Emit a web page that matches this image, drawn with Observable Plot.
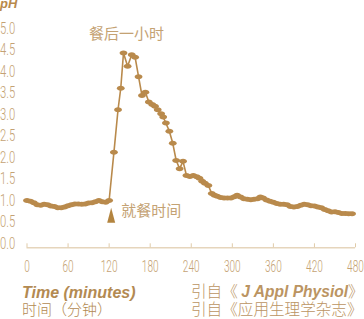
<!DOCTYPE html>
<html>
<head>
<meta charset="utf-8">
<script src="https://cdn.jsdelivr.net/npm/d3@7"></script>
<script src="https://cdn.jsdelivr.net/npm/@observablehq/plot@0.6"></script>
<style>
  html, body { margin: 0; padding: 0; background: #ffffff; }
  #wrap { position: relative; width: 364px; height: 319px; overflow: hidden; }
  #chart { position: absolute; left: 0; top: 0; }
  .cap { position: absolute; white-space: nowrap; line-height: 1; }
  .en { font-family: "Liberation Sans", Arial, sans-serif; font-weight: bold; font-style: italic; }
  .zh { font-family: "Noto Sans CJK SC", sans-serif; font-weight: 300; }
</style>
</head>
<body>
<div id="wrap">
  <div id="chart"></div>
  <span class="cap en" id="ph" style="left:0px; top:-3px; font-size:13px; color:#b8894c;">pH</span>
  <span class="cap en" style="left:22px; top:285px; font-size:16px; color:#b38a52;">Time (minutes)</span>
  <span class="cap zh" style="left:22px; top:301px; font-size:15px; color:#b38a52;">时间（分钟）</span>
  <span class="cap zh" style="left:191px; top:283px; font-size:15.6px; color:#bb9462;">引自《 <span class="en">J Appl Physiol</span>》</span>
  <span class="cap zh" style="left:191px; top:301px; font-size:15.6px; color:#bb9462;">引自《应用生理学杂志》</span>
</div>
<script>
// ---- data ----
const minutes = [
  0, 5, 10, 15, 20, 25, 30, 35, 40, 45, 50, 55, 60, 65, 70, 75, 80, 85, 90, 95, 100, 105, 110, 115, 120,
  127, 133, 137, 141, 147, 153, 158, 163, 168, 173, 178, 183, 187, 191, 196, 199, 203, 208, 213, 218, 223, 228, 233,
  238, 243, 248, 252, 256, 260, 265, 270, 274, 278, 283, 288, 293, 298, 303, 307, 312, 317, 322, 327, 332, 337,
  341, 345, 350, 355, 360, 365, 370, 375, 380, 385, 390, 395, 400, 405, 410, 415, 420, 425, 430, 435, 440, 445,
  450, 455, 460, 465, 470, 475
];
const phValues = [
  1.00, 0.98, 0.95, 0.90, 0.89, 0.91, 0.90, 0.87, 0.86, 0.83, 0.83, 0.85, 0.88, 0.90, 0.92, 0.92, 0.91, 0.92, 0.94, 0.95, 0.97, 1.00, 0.97, 0.96, 1.00,
  2.12, 3.11, 3.61, 4.43, 4.12, 4.39, 4.33, 3.88, 3.44, 3.52, 3.29, 3.23, 3.19, 3.11, 3.02, 2.94, 2.80, 2.61, 2.33, 1.93, 1.74, 1.91, 1.58,
  1.56, 1.58, 1.55, 1.52, 1.45, 1.40, 1.35, 1.16, 1.12, 1.10, 1.07, 1.06, 1.06, 1.06, 1.09, 1.12, 1.08, 1.04, 1.03, 1.02, 1.03, 1.04,
  1.08, 1.06, 1.01, 0.98, 0.96, 0.93, 0.91, 0.91, 0.90, 0.86, 0.85, 0.86, 0.89, 0.91, 0.90, 0.88, 0.87, 0.85, 0.83, 0.79, 0.76, 0.73,
  0.74, 0.72, 0.70, 0.70, 0.69, 0.69
];
const xTicks = [0, 60, 120, 180, 240, 300, 360, 420, 480];
const yTicks = [0, 0.5, 1, 1.5, 2, 2.5, 3, 3.5, 4, 4.5, 5];
const mealTime = [123];
const mealLabel = "就餐时间";
const peakLabel = "餐后一小时";

const data = minutes.map((t, i) => ({t, ph: phValues[i]}));
const peak = [data.reduce((a, b) => (b.ph > a.ph ? b : a))];

const lineColor = "#b98a4c";
const labelColor = "#c4a273";

const ellipse = {
  draw(ctx) {
    const rx = 3.9, ry = 2.5, k = 0.5523;
    ctx.moveTo(rx, 0);
    ctx.bezierCurveTo(rx, ry * k, rx * k, ry, 0, ry);
    ctx.bezierCurveTo(-rx * k, ry, -rx, ry * k, -rx, 0);
    ctx.bezierCurveTo(-rx, -ry * k, -rx * k, -ry, 0, -ry);
    ctx.bezierCurveTo(rx * k, -ry, rx, -ry * k, rx, 0);
    ctx.closePath();
  }
};
const tallTriangle = {
  draw(ctx) {
    ctx.moveTo(0, -8);
    ctx.lineTo(4, 7);
    ctx.lineTo(-4, 7);
    ctx.closePath();
  }
};

const chart = Plot.plot({
  width: 364,
  height: 275,
  marginTop: 28,
  marginBottom: 27.7,
  marginLeft: 26.5,
  marginRight: 9,
  style: {fontFamily: "Roboto, sans-serif", background: "transparent"},
  x: {domain: [0, 480]},
  y: {domain: [-0.1, 5]},
  marks: [
    Plot.ruleY([-0.1], {stroke: "#e6d5bc", strokeWidth: 1.5}),
    Plot.axisX({ticks: xTicks, tickSize: -4, tickPadding: 16, stroke: "#e0cba9", fill: labelColor, fontSize: 17, fontWeight: 300, label: null, tickFormat: d => String(d)}),
    Plot.axisY({ticks: yTicks, tickSize: 0, textAnchor: "start", dx: -18, fill: labelColor, fontSize: 17, fontWeight: 300, label: null, tickFormat: d3.format(".1f")}),
    Plot.line(data, {x: "t", y: "ph", stroke: lineColor, strokeWidth: 1.6}),
    Plot.dot(data, {x: "t", y: "ph", symbol: ellipse, fill: lineColor, stroke: null}),
    Plot.text(peak, {x: "t", y: "ph", text: () => peakLabel, dx: 3, dy: -19, fill: labelColor, fontSize: 15, fontFamily: "Noto Sans CJK SC"}),
    Plot.dot(mealTime, {x: d => d, frameAnchor: "bottom", dy: -32, symbol: tallTriangle, fill: "#b3843f", stroke: null}),
    Plot.text(mealTime, {x: d => d, frameAnchor: "bottom", dy: -32, dx: 10, text: () => mealLabel, textAnchor: "start", fill: labelColor, fontSize: 15, fontFamily: "Noto Sans CJK SC"})
  ]
});

// compress tick labels to a narrow, condensed look
d3.select(chart).selectAll('g[aria-label="x-axis tick label"] text, g[aria-label="y-axis tick label"] text').each(function () {
  const s = this.textContent;
  const digits = (s.match(/\d/g) || []).length;
  const dots = (s.match(/\./g) || []).length;
  this.setAttribute("textLength", digits * 5.6 + dots * 4);
  this.setAttribute("lengthAdjust", "spacingAndGlyphs");
});

document.getElementById("chart").appendChild(chart);
</script>
</body>
</html>
